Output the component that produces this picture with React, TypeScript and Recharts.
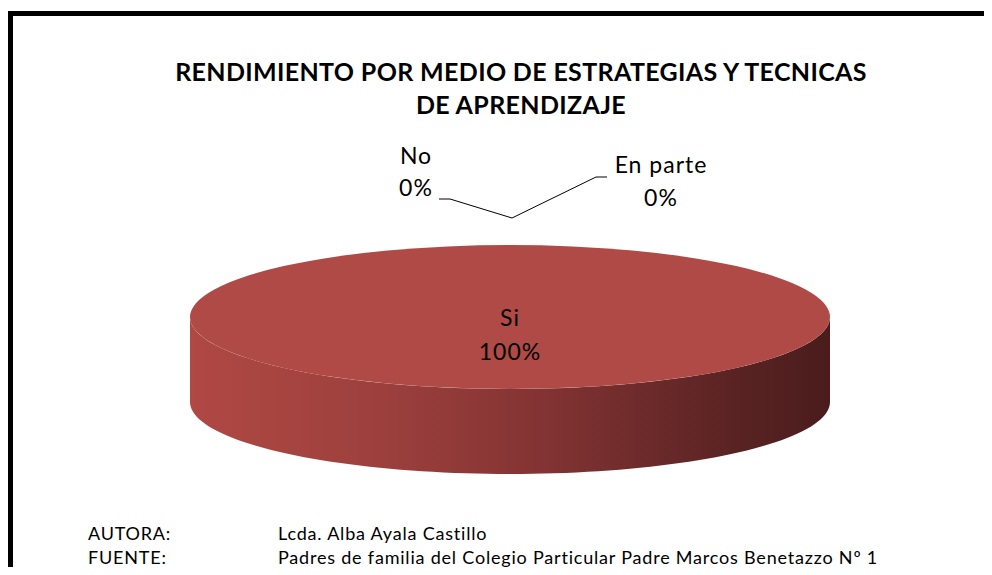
import React from 'react';
import { PieChart, Pie } from 'recharts';

const categories = ['Si', 'No', 'En parte'];
const values = [100, 0, 0];
const percentLabels = ['100%', '0%', '0%'];

const data = categories.map((name, i) => ({ name, value: values[i], pct: percentLabels[i] }));

const FONT = 'Lato, "Open Sans", sans-serif';
const TILT = 0.225; // ry / rx
const DEPTH = 85;
const TOP_COLOR = '#B04A47';

const RAD = Math.PI / 180;

// point on the tilted ellipse for a recharts angle (deg, counter-clockwise)
const ept = (cx: number, cy: number, rx: number, ry: number, a: number, dy = 0) => ({
  x: cx + rx * Math.cos(a * RAD),
  y: cy - ry * Math.sin(a * RAD) + dy,
});

const render3DSlice = (props: any) => {
  const { cx, cy, outerRadius, startAngle, endAngle } = props;
  const span = Math.abs(endAngle - startAngle);
  if (span < 0.01) return <g />;
  const rx = outerRadius;
  const ry = outerRadius * TILT;

  // side wall: the part of the rim facing the viewer (sin < 0)
  const hi = Math.max(startAngle, endAngle);
  const lo = Math.min(startAngle, endAngle);
  const top: { x: number; y: number }[] = [];
  const steps = 180;
  for (let k = 0; k <= steps; k++) {
    const a = hi - ((hi - lo) * k) / steps;
    if (Math.sin(a * RAD) <= 0.0001) top.push(ept(cx, cy, rx, ry, a));
  }
  let side = '';
  if (top.length > 1) {
    const bottom = top.map((p) => ({ x: p.x, y: p.y + DEPTH })).reverse();
    side = [...top, ...bottom].map((p, i) => `${i === 0 ? 'M' : 'L'}${p.x},${p.y}`).join(' ') + ' Z';
  }

  let topFace: React.ReactNode;
  if (span >= 359.99) {
    topFace = <ellipse cx={cx} cy={cy} rx={rx} ry={ry} fill={TOP_COLOR} />;
  } else {
    const p0 = ept(cx, cy, rx, ry, startAngle);
    const p1 = ept(cx, cy, rx, ry, endAngle);
    const large = span > 180 ? 1 : 0;
    const sweep = startAngle > endAngle ? 1 : 0;
    topFace = (
      <path
        d={`M${cx},${cy} L${p0.x},${p0.y} A${rx},${ry} 0 ${large} ${sweep} ${p1.x},${p1.y} Z`}
        fill={TOP_COLOR}
      />
    );
  }

  return (
    <g>
      <defs>
        <linearGradient id="sideGrad" x1="0" y1="0" x2="1" y2="0">
          <stop offset="0" stopColor="#B04844" />
          <stop offset="0.3" stopColor="#9C403D" />
          <stop offset="0.55" stopColor="#833333" />
          <stop offset="0.85" stopColor="#5A2323" />
          <stop offset="1" stopColor="#4A1C1C" />
        </linearGradient>
      </defs>
      {side && <path d={side} fill="url(#sideGrad)" />}
      {topFace}
    </g>
  );
};

const renderLabel = (props: any) => {
  const { cx, cy, outerRadius, midAngle, payload, name } = props;
  const label = name ?? payload?.name;
  const pct = payload?.pct ?? (payload?.payload && payload.payload.pct);
  const idx = categories.indexOf(label);
  const ry = outerRadius * TILT;
  const txt = { fontFamily: FONT, fontSize: 23, letterSpacing: 1, fill: '#000' };

  if (idx === 0) {
    return (
      <g>
        <text x={cx} y={cy} textAnchor="middle" dominantBaseline="central" {...txt}>{label}</text>
        <text x={cx} y={cy + 34} textAnchor="middle" dominantBaseline="central" {...txt}>{pct}</text>
      </g>
    );
  }

  // zero slices sit at the top of the pie; their labels are pulled outwards with leader lines
  const base = ept(cx, cy, outerRadius, ry, midAngle ?? 90);
  const ax = base.x + 2;
  const ay = base.y - 27;
  const side = idx === 1 ? -1 : 1;
  const elbow = idx === 1 ? { x: ax - 62, y: ay - 19 } : { x: ax + 84, y: ay - 41 };
  const end = { x: elbow.x + side * 11, y: elbow.y };
  const tx = idx === 1 ? ax - 96 : ax + 149;
  const ty = idx === 1 ? [ay - 63, ay - 31] : [ay - 54, ay - 21];
  return (
    <g>
      <polyline
        points={`${ax},${ay} ${elbow.x},${elbow.y} ${end.x},${end.y}`}
        fill="none"
        stroke="#000"
        strokeWidth={1}
      />
      <text x={tx} y={ty[0]} textAnchor="middle" dominantBaseline="central" {...txt}>{label}</text>
      <text x={tx} y={ty[1]} textAnchor="middle" dominantBaseline="central" {...txt}>{pct}</text>
    </g>
  );
};

export default function App() {
  return (
    <div style={{ position: 'relative', width: 984, height: 559, overflow: 'hidden', background: '#fff' }}>
      <div
        style={{
          position: 'absolute',
          left: 0,
          top: 3,
          width: 1100,
          height: 700,
          borderLeft: '5px solid #000',
          borderTop: '5px solid #000',
          boxSizing: 'border-box',
        }}
      />
      <div
        style={{
          position: 'absolute',
          left: 113,
          top: 47,
          width: 800,
          textAlign: 'center',
          fontFamily: FONT,
          fontWeight: 700,
          fontSize: 25,
          letterSpacing: 0.35,
          lineHeight: '33px',
          color: '#000',
        }}
      >
        RENDIMIENTO POR MEDIO DE ESTRATEGIAS Y TECNICAS
        <br />
        DE APRENDIZAJE
      </div>
      <div style={{ position: 'absolute', left: 0, top: 0 }}>
        <PieChart width={984} height={500}>
          <Pie
            data={data}
            dataKey="value"
            nameKey="name"
            cx={497}
            cy={304}
            outerRadius={320}
            startAngle={90}
            endAngle={-270}
            stroke="none"
            shape={render3DSlice}
            inactiveShape={render3DSlice}
            activeShape={render3DSlice}
            label={renderLabel}
            labelLine={false}
            isAnimationActive={false}
          />
        </PieChart>
      </div>
      <div
        style={{
          position: 'absolute',
          left: 80,
          top: 513,
          fontFamily: FONT,
          fontSize: 18,
          letterSpacing: 0.8,
          lineHeight: '24px',
          color: '#000',
        }}
      >
        <div style={{ display: 'flex' }}>
          <span style={{ width: 190 }}>AUTORA:</span>
          <span>Lcda. Alba Ayala Castillo</span>
        </div>
        <div style={{ display: 'flex' }}>
          <span style={{ width: 190 }}>FUENTE:</span>
          <span>Padres de familia del Colegio Particular Padre Marcos Benetazzo Nº 1</span>
        </div>
      </div>
    </div>
  );
}
